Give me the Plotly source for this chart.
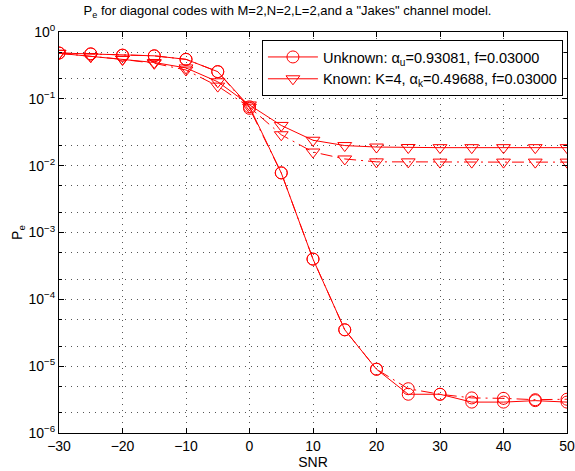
import plotly.graph_objects as go

snr = [-30, -25, -20, -15, -10, -5, 0, 5, 10, 15, 20, 25, 30, 35, 40, 45, 50]

unknown_solid = [0.485, 0.47, 0.45, 0.44, 0.39, 0.255, 0.076, 0.0078, 4.0e-4, 3.5e-5, 9.0e-6,
                 3.8e-6, 3.8e-6, 2.9e-6, 2.9e-6, 3.05e-6, 2.9e-6]
unknown_dash = [0.485, 0.47, 0.45, 0.44, 0.39, 0.255, 0.072, 0.0078, 4.0e-4, 3.5e-5, 9.0e-6,
                4.6e-6, 3.8e-6, 3.35e-6, 3.3e-6, 3.15e-6, 3.2e-6]
known_solid = [0.48, 0.43, 0.39, 0.35, 0.29, 0.18, 0.081, 0.040, 0.024, 0.020, 0.019,
               0.0187, 0.0186, 0.0186, 0.0186, 0.0186, 0.0186]
known_dash = [0.48, 0.43, 0.39, 0.34, 0.27, 0.155, 0.075, 0.029, 0.016, 0.0126, 0.0114,
              0.0114, 0.0113, 0.0113, 0.0113, 0.0113, 0.0113]

title_text = 'P<sub>e</sub> for diagonal codes with M=2,N=2,L=2,and a "Jakes" channel model.'
name_unknown = "Unknown: α<sub>u</sub>=0.93081, f=0.03000"
name_known = "Known: K=4, α<sub>k</sub>=0.49688, f=0.03000"

ytick_vals = [1e-6, 1e-5, 1e-4, 1e-3, 1e-2, 1e-1, 1]
ytick_text = ["10<sup>−6</sup>", "10<sup>−5</sup>", "10<sup>−4</sup>", "10<sup>−3</sup>",
              "10<sup>−2</sup>", "10<sup>−1</sup>", "10<sup>0</sup>"]
xtick_vals = [-30, -20, -10, 0, 10, 20, 30, 40, 50]
xtick_text = ["−30", "−20", "−10", "0", "10", "20", "30", "40", "50"]

red = "#ff0000"
grid_col = "#555555"
grid_dash = "1px,5px"

fig = go.Figure()
fig.add_trace(go.Scatter(x=snr, y=unknown_solid, mode="lines+markers", name=name_unknown,
                         line=dict(color=red, width=1),
                         marker=dict(symbol="circle-open", size=12, color=red, line=dict(width=1))))
fig.add_trace(go.Scatter(x=snr, y=known_solid, mode="lines+markers", name=name_known,
                         line=dict(color=red, width=1),
                         marker=dict(symbol="triangle-down-open", size=12, color=red, line=dict(width=1))))
fig.add_trace(go.Scatter(x=snr, y=unknown_dash, mode="lines+markers", showlegend=False,
                         line=dict(color=red, width=1, dash="12px,5px,2px,5px"),
                         marker=dict(symbol="circle-open", size=12, color=red, line=dict(width=1))))
fig.add_trace(go.Scatter(x=snr, y=known_dash, mode="lines+markers", showlegend=False,
                         line=dict(color=red, width=1, dash="12px,5px,2px,5px"),
                         marker=dict(symbol="triangle-down-open", size=12, color=red, line=dict(width=1))))

fig.update_layout(
    width=575, height=471,
    margin=dict(l=59, r=8, t=32, b=38),
    paper_bgcolor="white", plot_bgcolor="white",
    font=dict(family="Liberation Sans, Arial, sans-serif", size=14, color="black"),
    title=dict(text=title_text, x=0.5, xanchor="center", y=0.987, yanchor="top",
               font=dict(size=13)),
    showlegend=True,
    legend=dict(x=0.992, y=0.98, xanchor="right", yanchor="top",
                bgcolor="white", bordercolor="black", borderwidth=1,
                font=dict(size=14.5), tracegroupgap=0, itemwidth=50),
)
fig.update_xaxes(range=[-30, 50], tickvals=xtick_vals, ticktext=xtick_text,
                 showline=True, linecolor="black", linewidth=1, mirror="ticks",
                 ticks="inside", ticklen=5, tickcolor="black",
                 showgrid=True, gridcolor=grid_col, griddash=grid_dash, gridwidth=1,
                 zeroline=False, automargin=False, ticklabeloverflow="allow",
                 title=dict(text="SNR", standoff=0, font=dict(size=14)))
fig.update_yaxes(type="log", range=[-6, 0], tickvals=ytick_vals, ticktext=ytick_text,
                 showline=True, linecolor="black", linewidth=1, mirror="ticks",
                 ticks="inside", ticklen=5, tickcolor="black",
                 showgrid=True, gridcolor=grid_col, griddash=grid_dash, gridwidth=1,
                 minor=dict(ticks="inside", ticklen=3, tickcolor="black",
                            showgrid=True, gridcolor=grid_col, griddash=grid_dash, gridwidth=1),
                 zeroline=False, automargin=False, ticklabeloverflow="allow",
                 title=dict(text="P<sub>e</sub>", standoff=2, font=dict(size=14)))

fig.write_html("out.html", config={"displayModeBar": False},
               post_script="document.body.style.margin='0';")
